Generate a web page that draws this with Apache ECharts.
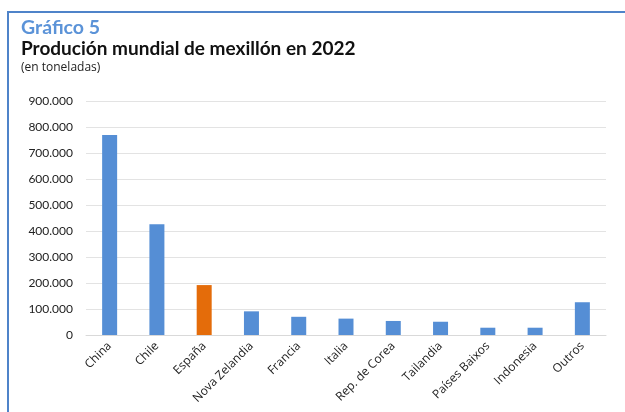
<!DOCTYPE html>
<html><head><meta charset="utf-8">
<script src="https://cdn.jsdelivr.net/npm/echarts@6/dist/echarts.min.js"></script>
<style>html,body{margin:0;padding:0;background:#fff}#c{width:625px;height:412px}</style>
</head><body><div id="c"></div>
<script>
const categories = ["China","Chile","España","Nova Zelandia","Francia","Italia","Rep. de Corea","Tailandia","Países Baixos","Indonesia","Outros"];
const values = [769000,426000,192000,91000,70000,63000,54000,51000,28000,28000,126000];
const highlight = "España";
const yTicks = [0,100000,200000,300000,400000,500000,600000,700000,800000,900000];

function fmt(v){ return String(v).replace(/\B(?=(\d{3})+(?!\d))/g,"."); }

const chart = echarts.init(document.getElementById('c'), null, {renderer:'canvas'});
chart.setOption({
  animation:false,
  backgroundColor:'#fff',
  textStyle:{fontFamily:'Lato, "Open Sans", sans-serif'},
  graphic:[
    {type:'rect', shape:{x:8,y:12,width:640,height:420}, style:{fill:'none', stroke:'#4f83c9', lineWidth:2}},
    {type:'text', left:21, top:18, style:{text:'Gráfico 5', fill:'#5b93d8', font:'bold 19.5px Lato, sans-serif'}},
    {type:'text', left:21, top:39, style:{text:'Produción mundial de mexillón en 2022', fill:'#111', font:'bold 19px Lato, sans-serif'}},
    {type:'text', left:21, top:62, style:{text:'(en toneladas)', fill:'#222', font:'12px "Open Sans", sans-serif'}}
  ],
  grid:{left:86, right:19, top:101, bottom:77},
  xAxis:{
    type:'category', data:categories,
    axisLine:{lineStyle:{color:'#d9d9d9'}},
    axisTick:{show:false},
    axisLabel:{rotate:45, color:'#222', fontSize:12, fontFamily:'"Open Sans", sans-serif', margin:9, interval:0}
  },
  yAxis:{
    type:'value', min:yTicks[0], max:yTicks[yTicks.length-1], interval:100000,
    axisLine:{show:false}, axisTick:{show:false},
    splitLine:{lineStyle:{color:'#e3e3e3'}},
    axisLabel:{color:'#222', fontSize:12, margin:13, formatter:fmt}
  },
  series:[{
    type:'bar', barWidth:15,
    data: categories.map((c,i)=>({value:values[i], itemStyle:{color: c===highlight ? '#e46c0a' : '#558ed5'}}))
  }]
});
</script></body></html>
